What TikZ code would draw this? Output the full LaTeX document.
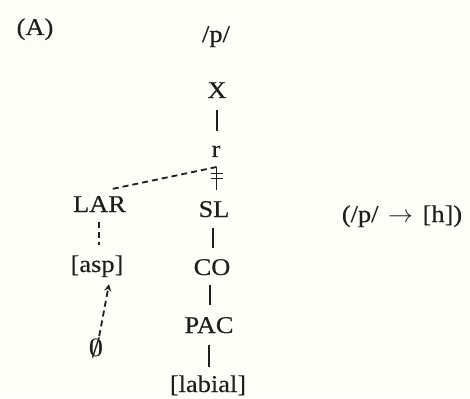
\documentclass[tikz,border=0pt]{standalone}
\usepackage{fontspec}
\usepackage{bm}
\setmainfont[FakeStretch=1.1,FakeBold=0.3]{Liberation Serif}
\usetikzlibrary{arrows.meta,calc}
\definecolor{ink}{RGB}{30,30,30}
\definecolor{paper}{RGB}{254,254,249}
\tikzset{
  lab/.style={inner sep=0pt, anchor=base, text=ink, font=\fontsize{24}{28}\selectfont},
  tree/.style={draw=ink, line width=1.8pt},
  dashedtree/.style={draw=ink, line width=1.8pt, dash pattern=on 6pt off 4pt},
}
\begin{document}
\begin{tikzpicture}[x=1pt,y=-1pt]
\fill[paper] (0,0) rectangle (470,398);
\useasboundingbox (0,0) rectangle (470,398);
\node[lab] (A) at (35,35) {(A)};
\node[lab] (p) at (216,42) {/p/};
\node[lab] (X) at (217,98) {X};
\node[lab] (r) at (216,157) {r};
\node[lab] (LAR) at (99.5,212) {LAR};
\node[lab] (SL) at (214,217) {SL};
\node[lab] (asp) at (97,272) {[asp]};
\node[lab] (CO) at (212,275) {CO};
\node[lab] (PAC) at (209,333) {PAC};
\node[lab] (emp) at (96,356) {$\bm{\emptyset}$};
\node[lab] (lab) at (208,392) {[labial]};
\node[lab] (rule) at (402,222) {(/p/\hspace{0.4em}$\rightarrow$\hspace{0.4em}[h])};
\coordinate (rj) at (216.5,167);
\coordinate (larT) at (112,189);
% solid tree lines
\draw[tree, shorten <=12pt, shorten >=14pt] (X.south) -- (X.south |- r.north);
\draw[tree, shorten >=11pt] (rj) -- (rj |- SL.north);
\draw[tree, shorten <=11pt, shorten >=11pt] ($(SL.south)+(-1,0)$) -- ($(SL.south |- CO.north)+(-1,0)$);
\draw[tree, shorten <=10pt, shorten >=12pt] ($(CO.south)+(-2,0)$) -- ($(CO.south |- PAC.north)+(-2,0)$);
\draw[tree, shorten <=12pt, shorten >=8pt] (PAC.south) -- (PAC.south |- lab.north);
% double strike (delinking)
\draw[tree, line width=1.5pt] (210.5,173.5) -- (222.5,173.5);
\draw[tree, line width=1.5pt] (210.5,178.5) -- (222.5,178.5);
% dashed association lines
\draw[dashedtree] (rj) -- (larT);
\draw[dashedtree, shorten <=10pt, shorten >=10pt] ($(LAR.south)+(-0.5,0)$) -- ($(LAR.south |- asp.north)+(-0.5,0)$);
\draw[dashedtree, -{Stealth[length=7pt,width=7pt]}, shorten <=1pt, shorten >=7pt]
  ($(emp.north)+(3,0)$) -- ($(asp.south)!0.5!(asp.south east)$);
\end{tikzpicture}
\end{document}
